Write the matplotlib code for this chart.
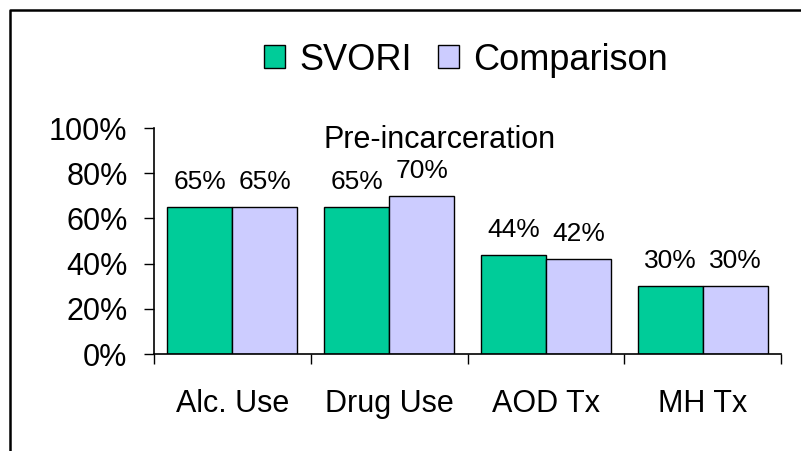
import numpy as np
import matplotlib.pyplot as plt
from matplotlib.lines import Line2D
from matplotlib.ticker import FixedLocator

plt.rcParams['font.family'] = ['Liberation Sans', 'DejaVu Sans']

categories = ["Alc. Use", "Drug Use", "AOD Tx", "MH Tx"]
svori = [65, 65, 44, 30]
comparison = [65, 70, 42, 30]
y_ticks = [0, 20, 40, 60, 80, 100]
y_labels = ["0%", "20%", "40%", "60%", "80%", "100%"]

fig = plt.figure(figsize=(8.01, 4.51), dpi=100)
ax = fig.add_axes([154 / 801, 1 - 354 / 451, 627 / 801, 226 / 451])

x = np.arange(len(categories))
w = 0.414
b1 = ax.bar(x - w / 2, svori, w, color="#00CC99", edgecolor="black",
            linewidth=1, label="SVORI")
b2 = ax.bar(x + w / 2, comparison, w, color="#CCCCFF", edgecolor="black",
            linewidth=1, label="Comparison")

for bars, vals in [(b1, svori), (b2, comparison)]:
    for r, v in zip(bars, vals):
        ax.annotate(f"{v}%", (r.get_x() + r.get_width() / 2, v),
                    xytext=(0, 13), textcoords="offset points",
                    ha="center", va="baseline", fontsize=19)

ax.set_xlim(-0.5, len(categories) - 0.5)
ax.set_ylim(0, 100)
ax.set_yticks(y_ticks)
ax.set_yticklabels(y_labels, fontsize=22)
ax.tick_params(axis="y", direction="out", length=7, width=1, pad=12)

ax.xaxis.set_major_locator(FixedLocator(np.arange(len(categories) + 1) - 0.5))
ax.set_xticklabels([])
ax.set_xticks(x, minor=True)
ax.set_xticklabels(categories, minor=True, fontsize=22)
ax.tick_params(axis="x", which="major", direction="out", length=7, width=1)
ax.tick_params(axis="x", which="minor", length=0, pad=25)

for s in ["top", "right"]:
    ax.spines[s].set_visible(False)
for s in ["left", "bottom"]:
    ax.spines[s].set_linewidth(1.2)

fig.text(440 / 801, 1 - 148 / 451, "Pre-incarceration", ha="center",
         va="baseline", fontsize=22)

fig.legend(handles=[b1, b2], loc="center", bbox_to_anchor=(466 / 801, 1 - 60 / 451),
           ncol=2, frameon=False, fontsize=26, handlelength=0.6,
           handleheight=0.6, handletextpad=0.4, columnspacing=0.7)

# outer border (top and left visible)
fig.add_artist(Line2D([10 / 801, 10 / 801, 1], [0, 1 - 10 / 451, 1 - 10 / 451],
                      color="black", linewidth=1.8, transform=fig.transFigure))

fig.savefig("out.png", dpi=100)
